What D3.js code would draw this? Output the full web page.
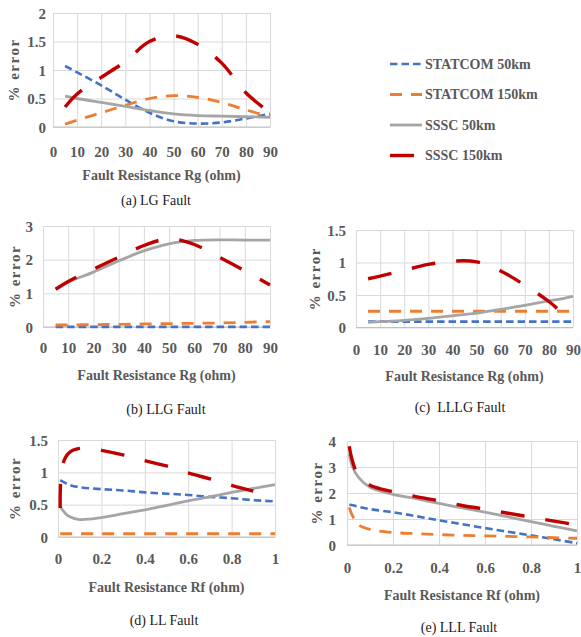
<!DOCTYPE html>
<html>
<head>
<meta charset="utf-8">
<script src="https://cdn.jsdelivr.net/npm/d3@7"></script>
<style>
  body { margin: 0; background: #fff; }
  svg { display: block; font-family: "Liberation Serif", "Times New Roman", serif; }
</style>
</head>
<body>
<svg id="chart" width="581" height="637"></svg>
<script>
// series info
var seriesNames = ["STATCOM 50km", "STATCOM 150km", "SSSC 50km", "SSSC 150km"];

// (a) LG fault
var xA = [5, 10, 20, 30, 40, 50, 60, 70, 80, 90];
var aStatcom50 = [1.07, 0.96, 0.73, 0.48, 0.25, 0.1, 0.06, 0.08, 0.15, 0.23];
var aStatcom150 = [0.05, 0.12, 0.25, 0.38, 0.5, 0.55, 0.52, 0.43, 0.3, 0.18];
var aSssc50 = [0.54, 0.5, 0.43, 0.36, 0.29, 0.23, 0.2, 0.19, 0.18, 0.17];
var aSssc150 = [0.35, 0.58, 0.87, 1.15, 1.5, 1.6, 1.45, 1.12, 0.6, 0.25];

// (b) LLG fault
var xB = [5, 10, 20, 30, 40, 50, 60, 70, 80, 90];
var bStatcom50 = [0.005, 0.005, 0.005, 0.005, 0.005, 0.005, 0.005, 0.005, 0.005, 0.005];
var bStatcom150 = [0.06, 0.06, 0.07, 0.08, 0.09, 0.1, 0.11, 0.12, 0.14, 0.16];
var bSssc50 = [1.13, 1.33, 1.63, 1.96, 2.26, 2.47, 2.57, 2.59, 2.58, 2.58];
var bSssc150 = [1.12, 1.35, 1.72, 2.07, 2.42, 2.62, 2.45, 2.07, 1.67, 1.25];

// (c) LLLG fault
var xC = [5, 10, 20, 30, 40, 50, 60, 70, 80, 85, 90];
var cStatcom50 = [0.09, 0.09, 0.09, 0.09, 0.09, 0.09, 0.09, 0.09, 0.09, 0.09, 0.09];
var cStatcom150 = [0.25, 0.25, 0.25, 0.25, 0.25, 0.25, 0.25, 0.25, 0.25, 0.25, 0.25];
var cSssc50 = [0.08, 0.09, 0.11, 0.14, 0.18, 0.22, 0.28, 0.34, 0.41, 0.44, 0.48];
var cSssc150 = [0.75, 0.79, 0.88, 0.97, 1.02, 1.01, 0.87, 0.65, 0.4, 0.24, null];

// (d) LL fault
var xD = [0.01, 0.02, 0.05, 0.1, 0.2, 0.3, 0.4, 0.5, 0.6, 0.7, 0.8, 0.9, 1];
var dStatcom50 = [0.88, 0.86, 0.81, 0.77, 0.74, 0.72, 0.69, 0.67, 0.65, 0.62, 0.6, 0.57, 0.55];
var dStatcom150 = [0.05, 0.05, 0.05, 0.05, 0.05, 0.05, 0.05, 0.05, 0.05, 0.05, 0.05, 0.05, 0.05];
var dSssc50 = [0.48, 0.42, 0.32, 0.27, 0.3, 0.36, 0.42, 0.49, 0.56, 0.62, 0.69, 0.75, 0.81];
var dSssc150 = [0.45, 1.1, 1.3, 1.37, 1.34, 1.27, 1.18, 1.1, 0.99, 0.9, 0.8, 0.71, null];

// (e) LLL fault
var xE = [0.01, 0.02, 0.05, 0.1, 0.2, 0.3, 0.4, 0.5, 0.6, 0.7, 0.8, 0.9, 1];
var eStatcom50 = [1.55, 1.54, 1.47, 1.38, 1.26, 1.11, 0.95, 0.8, 0.65, 0.51, 0.37, 0.22, 0.07];
var eStatcom150 = [1.45, 1.2, 0.78, 0.6, 0.48, 0.44, 0.4, 0.37, 0.35, 0.33, 0.31, 0.28, 0.26];
var eSssc50 = [3.5, 3.1, 2.6, 2.22, 1.95, 1.78, 1.6, 1.43, 1.26, 1.08, 0.9, 0.72, 0.54];
var eSssc150 = [3.8, 3.35, 2.65, 2.3, 2.05, 1.86, 1.7, 1.52, 1.38, 1.22, 1.07, 0.92, 0.77];

var colors = ["#4472C4", "#ED7D31", "#A5A5A5", "#C00000"];
var dashes = ["7.5,4", "12,9", null, "24,21"];
var widths = [2.6, 2.8, 2.8, 3.4];
var textColor = "#595959";

var panels = [
	{x: xA, ys: [aStatcom50, aStatcom150, aSssc50, aSssc150], xMax: 90, xTicks: [0, 10, 20, 30, 40, 50, 60, 70, 80, 90],
	 yMax: 2, yTicks: [0, 0.5, 1, 1.5, 2], xTitle: "Fault Resistance Rg (ohm)", caption: "(a) LG Fault",
	 l: 53, r: 270, t: 13, b: 127, xLab: 30, yLab: 7, yTitleX: 14, titleY: 180, capX: 156, capY: 205},
	{x: xB, ys: [bStatcom50, bStatcom150, bSssc50, bSssc150], xMax: 90, xTicks: [0, 10, 20, 30, 40, 50, 60, 70, 80, 90],
	 yMax: 3, yTicks: [0, 1, 2, 3], xTitle: "Fault Resistance Rg (ohm)", caption: "(b) LLG Fault",
	 l: 43, r: 270, t: 226, b: 327, xLab: 26, yLab: 10, yTitleX: 15, titleY: 380, capX: 166, capY: 414},
	{x: xC, ys: [cStatcom50, cStatcom150, cSssc50, cSssc150], xMax: 90, xTicks: [0, 10, 20, 30, 40, 50, 60, 70, 80, 90],
	 yMax: 1.5, yTicks: [0, 0.5, 1, 1.5], xTitle: "Fault Resistance Rg (ohm)", caption: "(c)  LLLG Fault",
	 l: 356, r: 573, t: 230, b: 327.5, xLab: 27, yLab: 10, yTitleX: 315, titleY: 381, capX: 460, capY: 412},
	{x: xD, ys: [dStatcom50, dStatcom150, dSssc50, dSssc150], xMax: 1, xTicks: [0, 0.2, 0.4, 0.6, 0.8, 1],
	 yMax: 1.5, yTicks: [0, 0.5, 1, 1.5], xTitle: "Fault Resistance Rf (ohm)", caption: "(d) LL Fault",
	 l: 58, r: 275, t: 440, b: 537, xLab: 27, yLab: 10, yTitleX: 15, titleY: 592, capX: 164, capY: 625},
	{x: xE, ys: [eStatcom50, eStatcom150, eSssc50, eSssc150], xMax: 1, xTicks: [0, 0.2, 0.4, 0.6, 0.8, 1],
	 yMax: 4, yTicks: [0, 1, 2, 3, 4], xTitle: "Fault Resistance Rf (ohm)", caption: "(e) LLL Fault",
	 l: 347, r: 577, t: 441, b: 545, xLab: 28, yLab: 11, yTitleX: 317, titleY: 600, capX: 459, capY: 632}
];

var svg = d3.select("#chart");

panels.forEach(function (p) {
	var xs = d3.scaleLinear().domain([0, p.xMax]).range([p.l, p.r]);
	var ysc = d3.scaleLinear().domain([0, p.yMax]).range([p.b, p.t]);
	var g = svg.append("g");

	// gridlines
	g.append("g")
		.attr("transform", "translate(0," + p.b + ")")
		.call(d3.axisBottom(xs).tickValues(p.xTicks).tickSize(-(p.b - p.t)).tickFormat(""))
		.call(function (s) { s.select(".domain").remove(); })
		.selectAll("line").attr("stroke", "#d9d9d9");
	g.append("g")
		.attr("transform", "translate(" + p.l + ",0)")
		.call(d3.axisLeft(ysc).tickValues(p.yTicks).tickSize(-(p.r - p.l)).tickFormat(""))
		.call(function (s) { s.select(".domain").remove(); })
		.selectAll("line").attr("stroke", "#d9d9d9");
	g.append("line")
		.attr("x1", p.l).attr("x2", p.r).attr("y1", p.b).attr("y2", p.b)
		.attr("stroke", "#bfbfbf");

	// tick labels
	var xa = g.append("g")
		.attr("transform", "translate(0," + p.b + ")")
		.call(d3.axisBottom(xs).tickValues(p.xTicks).tickSize(0).tickFormat(function (d) { return String(d); }));
	xa.select(".domain").remove();
	xa.selectAll("text").attr("dy", null).attr("y", p.xLab)
		.style("font-size", "15px").style("font-weight", "bold").attr("fill", textColor)
		.style("font-family", "'Liberation Serif', serif");

	var ya = g.append("g")
		.attr("transform", "translate(" + p.l + ",0)")
		.call(d3.axisLeft(ysc).tickValues(p.yTicks).tickSize(0).tickPadding(p.yLab).tickFormat(function (d) { return String(d); }));
	ya.select(".domain").remove();
	ya.selectAll("text").attr("dy", "0.35em")
		.style("font-size", "15px").style("font-weight", "bold").attr("fill", textColor)
		.style("font-family", "'Liberation Serif', serif");

	// series
	p.ys.forEach(function (vals, i) {
		var pts = p.x.map(function (xv, j) { return [xv, vals[j]]; });
		var line = d3.line()
			.defined(function (d) { return d[1] != null; })
			.x(function (d) { return xs(d[0]); })
			.y(function (d) { return ysc(d[1]); })
			.curve(d3.curveCatmullRom.alpha(0.5));
		g.append("path")
			.datum(pts)
			.attr("d", line)
			.attr("fill", "none")
			.attr("stroke", colors[i])
			.attr("stroke-width", widths[i])
			.attr("stroke-dasharray", dashes[i])
			.attr("stroke-linecap", "butt");
	});

	// titles
	g.append("text")
		.attr("transform", "translate(" + p.yTitleX + "," + ((p.t + p.b) / 2) + ") rotate(-90)")
		.attr("text-anchor", "middle").attr("dy", "0.35em")
		.style("font-size", "15px").style("font-weight", "bold").style("letter-spacing", "1.5px")
		.attr("fill", textColor)
		.text("% error");
	g.append("text")
		.attr("x", (p.l + p.r) / 2).attr("y", p.titleY)
		.attr("text-anchor", "middle")
		.style("font-size", "14px").style("font-weight", "bold")
		.attr("fill", textColor)
		.text(p.xTitle);
	g.append("text")
		.attr("x", p.capX).attr("y", p.capY)
		.attr("text-anchor", "middle")
		.style("font-size", "14px")
		.attr("fill", "#1a1a1a")
		.style("white-space", "pre")
		.text(p.caption);
});

// legend
var legend = svg.append("g").attr("transform", "translate(390,64)");
seriesNames.forEach(function (name, i) {
	var row = legend.append("g").attr("transform", "translate(0," + (i * 30.5) + ")");
	row.append("line")
		.attr("x1", 0).attr("x2", 32).attr("y1", 0).attr("y2", 0)
		.attr("stroke", colors[i])
		.attr("stroke-width", widths[i])
		.attr("stroke-dasharray", dashes[i]);
	row.append("text")
		.attr("x", 35).attr("y", 0).attr("dy", "0.35em")
		.style("font-size", "14px").style("font-weight", "bold")
		.attr("fill", textColor)
		.text(name);
});
</script>
</body>
</html>
